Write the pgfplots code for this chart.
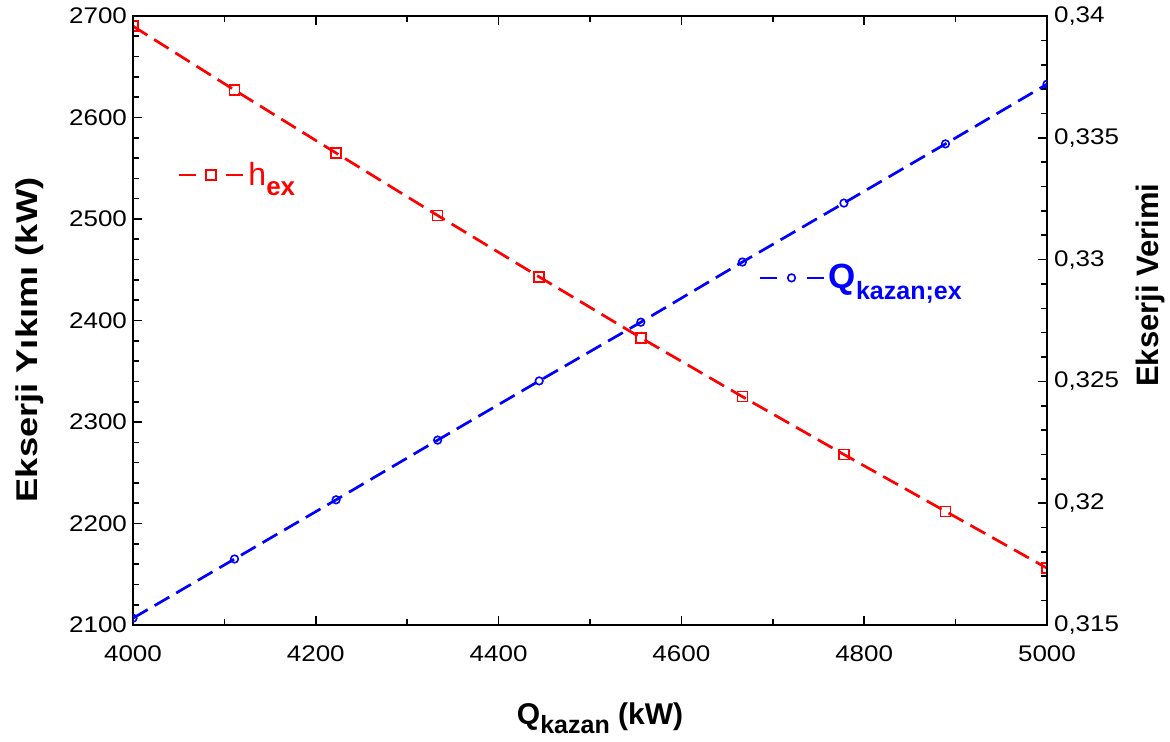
\documentclass[border=0pt]{standalone}
\usepackage{pgfplots}
\pgfplotsset{compat=1.18}
\usepackage{pgfplotstable}
\usepackage{fontspec}
\setmainfont{Liberation Sans}
\newfontfamily\tickfont[FakeStretch=1.15]{Liberation Sans}
\newfontfamily\widefont[FakeStretch=1.21]{Liberation Sans}

% exergy destruction (kW) vs boiler heat
\pgfplotstableread{
x      y
4000   2690
4111.1 2627
4222.2 2565
4333.3 2503.5
4444.4 2443
4555.6 2383
4666.7 2325
4777.8 2268
4888.9 2212
5000   2156
}\destruction

% exergy efficiency vs boiler heat
\pgfplotstableread{
x      y
4000   0.31528
4111.1 0.31771
4222.2 0.32014
4333.3 0.32259
4444.4 0.32502
4555.6 0.32743
4666.7 0.32990
4777.8 0.33232
4888.9 0.33475
5000   0.33720
}\efficiency

\newcommand{\fs}[1]{\fontsize{#1}{1.2\dimexpr#1\relax}\selectfont}
\newcommand{\sub}[2]{\raisebox{-0.32em}{\fs{#1}#2}}

\pgfplotsset{
  common/.style={
    scale only axis, width=457bp, height=304.5bp,
    xmin=4000, xmax=5000,
    axis line style={line width=1bp, black},
    tick style={black, line width=0.8bp},
    major tick length=4.5bp, minor tick length=3bp,
    tick align=inside,
    clip mode=individual,
    clip marker paths=true,
    tick label style={font=\tickfont\fs{11.3bp}},
    /pgf/number format/assume math mode=true,
    legend style={draw=none, fill=none, inner sep=0pt, outer sep=0pt,
      cells={anchor=west}},
  },
  seg legend/.style={
    legend image code/.code={
      \draw[##1, solid] (0bp,0bp) -- (8.5bp,0bp);
      \draw[##1, solid] (23.5bp,0bp) -- (32bp,0bp);
      \draw[##1, solid, only marks] plot coordinates {(16bp,0bp)};
    },
  },
}

\begin{document}
\begin{tikzpicture}
\path[use as bounding box] (-66.5bp,-58.5bp) rectangle (518.5bp,312.5bp);

\begin{axis}[common,
  ymin=2100, ymax=2700,
  xtick={4000,4200,...,5000}, minor x tick num=1,
  ytick={2100,2200,...,2700}, minor y tick num=4,
  xtick pos=both, xticklabel pos=lower,
  ytick pos=left,
  /pgf/number format/1000 sep={},
  xticklabel style={yshift=-7bp},
  yticklabel style={xshift=0.5bp},
  seg legend,
  legend style={at={(0.049,0.739)}, anchor=west, text=red},
]
\addplot[red, line width=1.35bp, dash pattern=on 8.5bp off 4bp,
  mark=square, mark size=2.5bp,
  mark options={solid, fill=white, line width=0.8bp}]
  table[x=x, y=y] {\destruction};
\addlegendentry{\fs{16bp}h\sub{13bp}{\bfseries ex}}

\node[rotate=90, anchor=center, font=\widefont\fs{15bp}\bfseries]
  at (rel axis cs:-0.1127,0.468) {Ekserji Yıkımı (kW)};
\node[anchor=center, font=\fs{15bp}\bfseries]
  at (rel axis cs:0.511,-0.153) {Q\sub{12.5bp}{kazan} (kW)};
\end{axis}

\begin{axis}[common,
  ymin=0.315, ymax=0.34,
  hide x axis,
  ytick={0.315,0.32,...,0.341}, minor y tick num=4,
  ytick pos=right, yticklabel pos=right,
  yticklabel style={/pgf/number format/.cd, fixed, precision=3, use comma},
  seg legend,
  legend style={at={(0.684,0.570)}, anchor=west, text=blue},
]
\addplot[blue, line width=1.35bp, dash pattern=on 8.5bp off 4bp,
  mark=o, mark size=1.9bp,
  mark options={solid, fill=white, line width=0.8bp}]
  table[x=x, y=y] {\efficiency};
\addlegendentry{\fs{17.5bp}\bfseries Q\sub{12.5bp}{kazan;ex}}

\node[rotate=90, anchor=center, font=\fs{15.5bp}\bfseries]
  at (rel axis cs:1.1127,0.558) {Ekserji Verimi};
\end{axis}
\end{tikzpicture}
\end{document}
